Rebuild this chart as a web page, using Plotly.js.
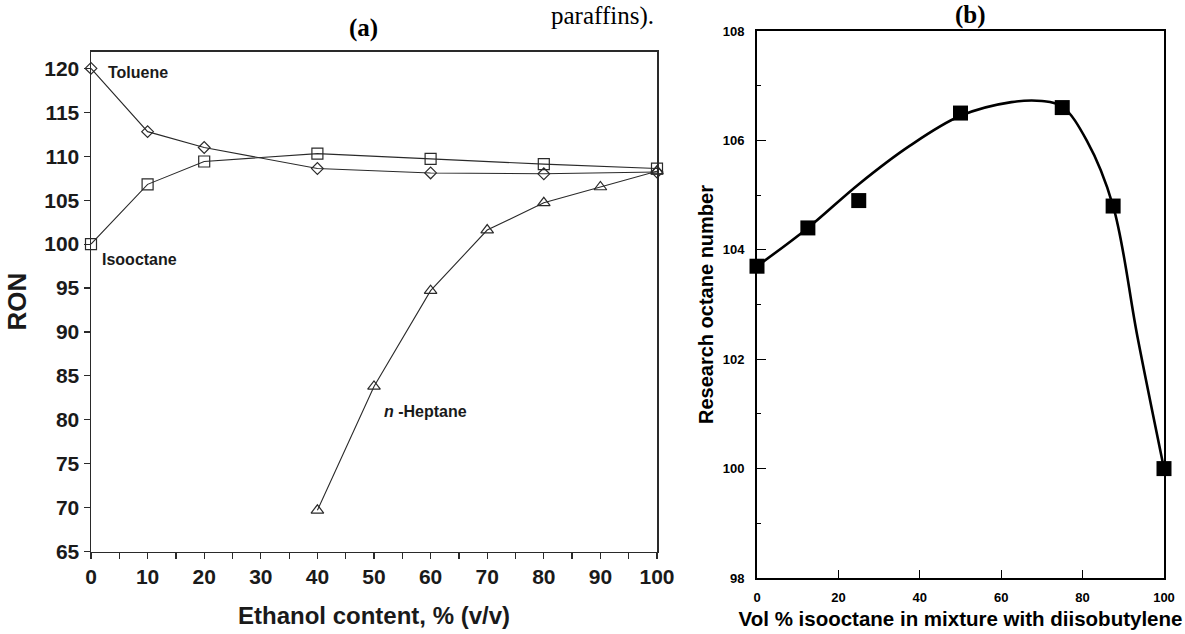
<!DOCTYPE html>
<html>
<head>
<meta charset="utf-8">
<script src="https://cdn.plot.ly/plotly-3.0.1.min.js"></script>
<style>html,body{margin:0;padding:0;background:#fff;}#chart{width:1185px;height:634px;}</style>
</head>
<body>
<div id="chart"></div>
<script>
// Panel (a): RON vs ethanol content
var ethanolX_toluene = [0, 10, 20, 40, 60, 80, 100];
var ron_toluene = [120, 112.8, 111.0, 108.6, 108.1, 108.0, 108.2];
var ethanolX_isooctane = [0, 10, 20, 40, 60, 80, 100];
var ron_isooctane = [100, 106.8, 109.4, 110.3, 109.7, 109.1, 108.6];
var ethanolX_heptane = [40, 50, 60, 70, 80, 90, 100];
var ron_heptane = [69.7, 83.8, 94.7, 101.6, 104.7, 106.5, 108.3];

// Panel (b): RON vs vol % isooctane in diisobutylene
var isoX_points = [0, 12.5, 25, 50, 75, 87.5, 100];
var ron_points = [103.7, 104.4, 104.9, 106.5, 106.6, 104.8, 100.0];
// fitted curve
var isoX_curve = [0, 12.5, 25, 37.5, 50, 62.5, 70, 75, 81, 87.5, 93.5, 100];
var ron_curve = [103.7, 104.4, 105.2, 105.9, 106.45, 106.7, 106.72, 106.62, 106.0, 104.8, 102.4, 100.0];

var W = 1185, H = 634;
function px(x){return x / W;}
function py(y){return 1 - y / H;}

var lineCol = '#2a2a2a';
var fontA = 'Liberation Sans, Arial, sans-serif';
var fontS = 'Liberation Serif, Times New Roman, serif';

var traces = [
  {x: ethanolX_toluene, y: ron_toluene, xaxis: 'x', yaxis: 'y', mode: 'lines+markers', type: 'scatter',
   line: {color: lineCol, width: 1.1},
   marker: {symbol: 'diamond-open', size: 9, color: lineCol, line: {width: 1.2, color: lineCol}}, cliponaxis: false},
  {x: ethanolX_isooctane, y: ron_isooctane, xaxis: 'x', yaxis: 'y', mode: 'lines+markers', type: 'scatter',
   line: {color: lineCol, width: 1.1},
   marker: {symbol: 'square-open', size: 11, color: lineCol, line: {width: 1.2, color: lineCol}}, cliponaxis: false},
  {x: ethanolX_heptane, y: ron_heptane, xaxis: 'x', yaxis: 'y', mode: 'lines+markers', type: 'scatter',
   line: {color: lineCol, width: 1.1},
   marker: {symbol: 'triangle-up-open', size: 11, color: lineCol, line: {width: 1.2, color: lineCol}}, cliponaxis: false},
  {x: isoX_curve, y: ron_curve, xaxis: 'x2', yaxis: 'y2', mode: 'lines', type: 'scatter',
   line: {color: '#000', width: 2.6, shape: 'spline', smoothing: 1}},
  {x: isoX_points, y: ron_points, xaxis: 'x2', yaxis: 'y2', mode: 'markers', type: 'scatter',
   marker: {symbol: 'square', size: 15, color: '#000'}, cliponaxis: false}
];

var layout = {
  width: W, height: H,
  margin: {l: 0, r: 0, t: 0, b: 0},
  paper_bgcolor: '#fff', plot_bgcolor: '#fff',
  showlegend: false,
  xaxis: {
    domain: [px(91), px(657)], range: [0, 100], anchor: 'y',
    tickmode: 'linear', tick0: 0, dtick: 10,
    ticks: 'outside', ticklen: 6, tickwidth: 1.2, tickcolor: lineCol,
    minor: {dtick: 5, ticks: 'outside', ticklen: 6, tickwidth: 1.2, tickcolor: lineCol},
    showline: true, linecolor: lineCol, linewidth: 1.5, mirror: true,
    showgrid: false, zeroline: false,
    tickfont: {family: fontA, size: 21, color: '#1a1a1a', weight: 'bold'},
    title: {text: 'Ethanol content, % (v/v)', font: {family: fontA, size: 24, color: '#1a1a1a', weight: 'bold'}, standoff: 20}
  },
  yaxis: {
    domain: [py(551.6), py(51.7)], range: [65, 121.9], anchor: 'x',
    tickmode: 'linear', tick0: 65, dtick: 5,
    ticks: 'outside', ticklen: 6, tickwidth: 1.2, tickcolor: lineCol,
    showline: true, linecolor: lineCol, linewidth: 1.5, mirror: true,
    showgrid: false, zeroline: false,
    tickfont: {family: fontA, size: 21, color: '#1a1a1a', weight: 'bold'},
    title: {text: 'RON', font: {family: fontA, size: 26, color: '#1a1a1a', weight: 'bold'}, standoff: 10}
  },
  xaxis2: {
    domain: [px(757), px(1164)], range: [0, 100], anchor: 'y2',
    tickmode: 'linear', tick0: 0, dtick: 20,
    ticks: 'inside', ticklen: 8, tickwidth: 1.2, tickcolor: '#000',
    showline: true, linecolor: '#000', linewidth: 2, mirror: true,
    showgrid: false, zeroline: false, ticklabelstandoff: 6,
    tickfont: {family: fontA, size: 13, color: '#000', weight: 'bold'},
    title: {text: 'Vol % isooctane in mixture with diisobutylene', font: {family: fontA, size: 20.5, color: '#000', weight: 'bold'}, standoff: 8}
  },
  yaxis2: {
    domain: [py(578), py(31)], range: [98, 108], anchor: 'x2',
    tickmode: 'linear', tick0: 98, dtick: 2,
    ticks: 'inside', ticklen: 9, tickwidth: 1.2, tickcolor: '#000',
    minor: {dtick: 1, ticks: 'inside', ticklen: 4, tickwidth: 1, tickcolor: '#000'},
    showline: true, linecolor: '#000', linewidth: 2, mirror: true,
    showgrid: false, zeroline: false, ticklabelstandoff: 8,
    tickfont: {family: fontA, size: 13, color: '#000', weight: 'bold'},
    title: {text: 'Research octane number', font: {family: fontA, size: 20, color: '#000', weight: 'bold'}, standoff: 4}
  },
  annotations: [
    {text: 'Toluene', xref: 'paper', yref: 'paper', x: px(106), y: py(73), xanchor: 'left', yanchor: 'middle', showarrow: false,
     font: {family: fontA, size: 16, color: '#1a1a1a', weight: 'bold'}},
    {text: 'Isooctane', xref: 'paper', yref: 'paper', x: px(100), y: py(259), xanchor: 'left', yanchor: 'middle', showarrow: false,
     font: {family: fontA, size: 16, color: '#1a1a1a', weight: 'bold'}},
    {text: '<i>n</i> -Heptane', xref: 'paper', yref: 'paper', x: px(382), y: py(411), xanchor: 'left', yanchor: 'middle', showarrow: false,
     font: {family: fontA, size: 16, color: '#1a1a1a', weight: 'bold'}},
    {text: '<b>(a)</b>', xref: 'paper', yref: 'paper', x: px(363), y: py(28), xanchor: 'center', yanchor: 'middle', showarrow: false,
     font: {family: fontS, size: 25, color: '#000'}},
    {text: '<b>(b)</b>', xref: 'paper', yref: 'paper', x: px(970), y: py(15), xanchor: 'center', yanchor: 'middle', showarrow: false,
     font: {family: fontS, size: 25, color: '#000'}},
    {text: 'paraffins).', xref: 'paper', yref: 'paper', x: px(602), y: 1, xanchor: 'center', yanchor: 'top', showarrow: false,
     font: {family: fontS, size: 25, color: '#000'}}
  ]
};

Plotly.newPlot('chart', traces, layout, {displayModeBar: false, staticPlot: true});
</script>
</body>
</html>
